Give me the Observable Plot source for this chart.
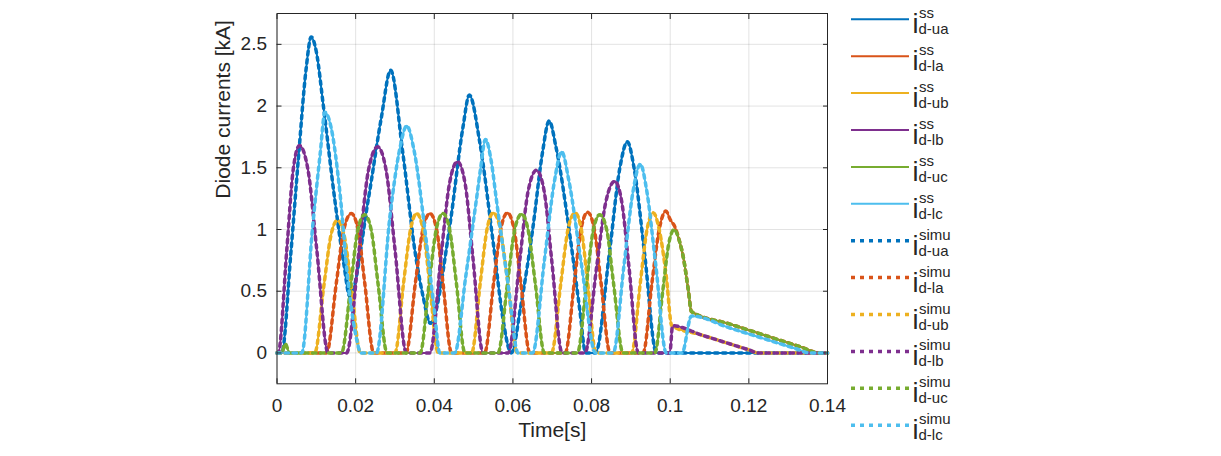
<!DOCTYPE html>
<html>
<head>
<meta charset="utf-8">
<script src="https://cdn.jsdelivr.net/npm/d3@7"></script>
<script src="https://cdn.jsdelivr.net/npm/@observablehq/plot@0.6"></script>
<style>
  html, body { margin: 0; padding: 0; background: #ffffff; }
  #chart { width: 1221px; height: 456px; }
</style>
</head>
<body>
<div id="chart"></div>
<script>
// ---------- tick labels ----------
const xTicks = [0, 0.02, 0.04, 0.06, 0.08, 0.1, 0.12, 0.14];
const yTicks = [0, 0.5, 1, 1.5, 2, 2.5];

// ---------- series names ----------
const seriesNames = ["d-ua", "d-la", "d-ub", "d-lb", "d-uc", "d-lc"];
const seriesColors = ["#0072BD", "#D95319", "#EDB120", "#7E2F8E", "#77AC30", "#4DBEEE"];

// ---------- i_d-ua (time [s], current [kA]) ----------
const t_ua = [0, 0.0012, 0.0035, 0.0055, 0.0074, 0.0087, 0.0100, 0.0118, 0.0147, 0.0170, 0.0185, 0.0232, 0.0265, 0.0289, 0.0320, 0.0352, 0.0372, 0.0390, 0.0439, 0.0473, 0.0489, 0.0516, 0.0550, 0.0575, 0.0590, 0.0596, 0.0620, 0.0651, 0.0675, 0.0692, 0.0710, 0.0745, 0.0770, 0.0785, 0.0810, 0.0845, 0.0872, 0.0891, 0.0908, 0.0935, 0.0965, 0.1400];
const i_ua = [0, 0, 0.80, 1.60, 2.30, 2.56, 2.44, 2.00, 1.24, 0.72, 0.46, 1.24, 1.90, 2.29, 1.62, 0.80, 0.45, 0.24, 1.02, 1.83, 2.09, 1.70, 0.89, 0.27, 0.03, 0, 0.38, 1.02, 1.62, 1.88, 1.66, 0.95, 0.35, 0, 0, 0.80, 1.50, 1.71, 1.50, 0.80, 0, 0];

// ---------- i_d-la ----------
const t_la = [0, 0.0126, 0.0151, 0.0170, 0.0189, 0.0206, 0.0223, 0.0246, 0.0328, 0.0352, 0.0371, 0.0389, 0.0406, 0.0422, 0.0444, 0.0528, 0.0551, 0.0569, 0.0586, 0.0603, 0.0620, 0.0643, 0.0733, 0.0756, 0.0773, 0.0790, 0.0807, 0.0824, 0.0847, 0.0931, 0.0954, 0.0972, 0.0989, 0.1000, 0.1012, 0.1024, 0.1033, 0.1046, 0.1054, 0.1150, 0.1250, 0.1330, 0.1380, 0.1400];
const i_la = [0, 0, 0.57, 1.00, 1.13, 1.00, 0.57, 0, 0, 0.57, 1.00, 1.13, 1.00, 0.57, 0, 0, 0.57, 1.00, 1.135, 1.00, 0.57, 0, 0, 0.57, 1.00, 1.14, 1.00, 0.57, 0, 0, 0.58, 1.00, 1.15, 1.08, 1.02, 0.90, 0.78, 0.51, 0.335, 0.236, 0.133, 0.051, 0, 0];

// ---------- i_d-ub ----------
const t_ub = [0, 0.0096, 0.0119, 0.0137, 0.0154, 0.0171, 0.0189, 0.0212, 0.0300, 0.0322, 0.0339, 0.0355, 0.0372, 0.0388, 0.0410, 0.0495, 0.0517, 0.0534, 0.0550, 0.0568, 0.0587, 0.0611, 0.0698, 0.0722, 0.0740, 0.0758, 0.0774, 0.0790, 0.0811, 0.0902, 0.0924, 0.0941, 0.0957, 0.0972, 0.0990, 0.1004, 0.1080, 0.1160, 0.1200, 0.1224, 0.1400];
const i_ub = [0, 0, 0.54, 0.95, 1.075, 0.95, 0.54, 0, 0, 0.57, 0.99, 1.13, 0.99, 0.57, 0, 0, 0.57, 1.00, 1.135, 1.00, 0.57, 0, 0, 0.57, 1.00, 1.135, 1.00, 0.57, 0, 0, 0.57, 1.00, 1.135, 1.00, 0.62, 0.22, 0.145, 0.065, 0.025, 0, 0];

// ---------- i_d-lb ----------
const t_lb = [0, 0.0003, 0.0025, 0.0041, 0.0057, 0.0079, 0.0101, 0.0130, 0.0177, 0.0209, 0.0232, 0.0256, 0.0278, 0.0300, 0.0329, 0.0389, 0.0417, 0.0438, 0.0459, 0.0479, 0.0498, 0.0524, 0.0588, 0.0617, 0.0638, 0.0660, 0.0680, 0.0699, 0.0725, 0.0783, 0.0813, 0.0836, 0.0859, 0.0877, 0.0895, 0.0919, 0.0999, 0.1006, 0.1080, 0.1160, 0.1200, 0.1224, 0.1400];
const i_lb = [0, 0, 0.84, 1.48, 1.68, 1.48, 0.84, 0, 0, 0.84, 1.47, 1.67, 1.47, 0.84, 0, 0, 0.78, 1.36, 1.55, 1.36, 0.78, 0, 0, 0.74, 1.30, 1.48, 1.30, 0.74, 0, 0, 0.70, 1.22, 1.39, 1.22, 0.70, 0, 0, 0.22, 0.145, 0.065, 0.025, 0, 0];

// ---------- i_d-uc ----------
const t_uc = [0, 0.0012, 0.0021, 0.0032, 0.0164, 0.0188, 0.0205, 0.0223, 0.0240, 0.0257, 0.0280, 0.0364, 0.0387, 0.0405, 0.0422, 0.0439, 0.0456, 0.0478, 0.0562, 0.0586, 0.0604, 0.0622, 0.0639, 0.0657, 0.0680, 0.0764, 0.0787, 0.0804, 0.0821, 0.0839, 0.0856, 0.0880, 0.0961, 0.0981, 0.0996, 0.1010, 0.1024, 0.1033, 0.1046, 0.1054, 0.1150, 0.1250, 0.1330, 0.1380, 0.1400];
const i_uc = [0, 0, 0.075, 0, 0, 0.56, 0.99, 1.12, 0.99, 0.56, 0, 0, 0.57, 1.00, 1.13, 1.00, 0.57, 0, 0, 0.56, 0.99, 1.125, 0.99, 0.56, 0, 0, 0.56, 0.99, 1.12, 0.99, 0.56, 0, 0, 0.50, 0.88, 1.00, 0.90, 0.78, 0.51, 0.335, 0.236, 0.133, 0.051, 0, 0];

// ---------- i_d-lc ----------
const t_lc = [0, 0.0063, 0.0090, 0.0110, 0.0122, 0.0138, 0.0160, 0.0180, 0.0200, 0.0214, 0.0253, 0.0287, 0.0312, 0.0330, 0.0348, 0.0378, 0.0400, 0.0414, 0.0452, 0.0480, 0.0507, 0.0518, 0.0530, 0.0545, 0.0558, 0.0588, 0.0613, 0.0650, 0.0680, 0.0705, 0.0724, 0.0742, 0.0775, 0.0810, 0.0855, 0.0882, 0.0905, 0.0924, 0.0940, 0.0963, 0.0990, 0.1030, 0.1054, 0.1150, 0.1250, 0.1320, 0.1355, 0.1400];
const i_lc = [0, 0, 1.00, 1.62, 1.95, 1.82, 1.30, 0.60, 0.15, 0, 0, 1.10, 1.65, 1.84, 1.65, 0.95, 0.35, 0, 0, 0.62, 1.24, 1.50, 1.73, 1.55, 1.24, 0.55, 0, 0, 0.75, 1.38, 1.63, 1.40, 0.70, 0, 0, 0.70, 1.30, 1.53, 1.32, 0.72, 0, 0, 0.30, 0.204, 0.104, 0.034, 0, 0];

// steady-state (ss) and simulated (simu) traces coincide on the figure
const ssTimes = [t_ua, t_la, t_ub, t_lb, t_uc, t_lc];
const ssValues = [i_ua, i_la, i_ub, i_lb, i_uc, i_lc];
const simuTimes = ssTimes;
const simuValues = ssValues;

const FONT = "'Liberation Sans', Arial, Helvetica, sans-serif";
const INK = "#262626";

function table(ts, vs) { return ts.map((t, k) => ({ t, v: vs[k] })); }

const marks = [
  Plot.gridX(xTicks, { stroke: INK, strokeOpacity: 0.13, strokeWidth: 1 }),
  Plot.gridY(yTicks, { stroke: INK, strokeOpacity: 0.13, strokeWidth: 1 })
];
for (let i = 0; i < 6; i++) {
  marks.push(Plot.line(table(ssTimes[i], ssValues[i]), {
    x: "t", y: "v", stroke: seriesColors[i], strokeWidth: 2, curve: "monotone-x"
  }));
}
for (let i = 0; i < 6; i++) {
  marks.push(Plot.line(table(simuTimes[i], simuValues[i]), {
    x: "t", y: "v", stroke: seriesColors[i], strokeWidth: 3.5,
    strokeDasharray: "3.5,4.5", curve: "monotone-x"
  }));
}
marks.push(
  Plot.frame({ stroke: INK, strokeWidth: 1 }),
  Plot.axisX(xTicks, { anchor: "bottom", tickSize: -5, tickPadding: 20, tickFormat: d => String(d), fontSize: 19, label: null, stroke: INK }),
  Plot.axisX(xTicks, { anchor: "top", tickSize: -5, tickFormat: () => "", label: null, stroke: INK }),
  Plot.axisY(yTicks, { anchor: "left", tickSize: -5, tickPadding: 15, tickFormat: d => String(d), fontSize: 19, label: null, stroke: INK }),
  Plot.axisY(yTicks, { anchor: "right", tickSize: -5, tickFormat: () => "", label: null, stroke: INK }),
  Plot.text(["Time[s]"], { frameAnchor: "bottom", dy: 53, fontSize: 21, fill: INK }),
  Plot.text(["Diode currents [kA]"], { frameAnchor: "left", dx: -54, rotate: -90, fontSize: 21, fill: INK })
);

const svg = Plot.plot({
  width: 1221,
  height: 456,
  marginLeft: 276.5,
  marginRight: 394,
  marginTop: 13,
  marginBottom: 72.7,
  x: { domain: [0, 0.14] },
  y: { domain: [-0.25, 2.75] },
  style: { fontFamily: FONT, fontSize: "19px", color: INK, background: "#ffffff", overflow: "visible" },
  marks
});
document.getElementById("chart").appendChild(svg);

// ---------- legend ----------
const legendEntries = [];
seriesNames.forEach((n, i) => legendEntries.push({ sup: "ss", sub: n, color: seriesColors[i], dotted: false }));
seriesNames.forEach((n, i) => legendEntries.push({ sup: "simu", sub: n, color: seriesColors[i], dotted: true }));

const lg = d3.select(svg).append("g")
  .attr("font-family", FONT)
  .attr("fill", INK)
  .attr("text-anchor", "start");
legendEntries.forEach((e, k) => {
  const y = 19.3 + 36.9 * k;
  lg.append("line")
    .attr("x1", 851).attr("x2", 909).attr("y1", y).attr("y2", y)
    .attr("stroke", e.color)
    .attr("stroke-width", e.dotted ? 3.5 : 2)
    .attr("stroke-dasharray", e.dotted ? "4,5" : null);
  lg.append("text").attr("x", 912.5).attr("y", y + 14).attr("font-size", 27).attr("text-anchor", "start").text("i");
  lg.append("text").attr("x", 919).attr("y", y - 1).attr("font-size", 15).attr("text-anchor", "start").text(e.sup);
  lg.append("text").attr("x", 918.5).attr("y", y + 15).attr("font-size", 15).attr("text-anchor", "start").text(e.sub);
});
</script>
</body>
</html>
